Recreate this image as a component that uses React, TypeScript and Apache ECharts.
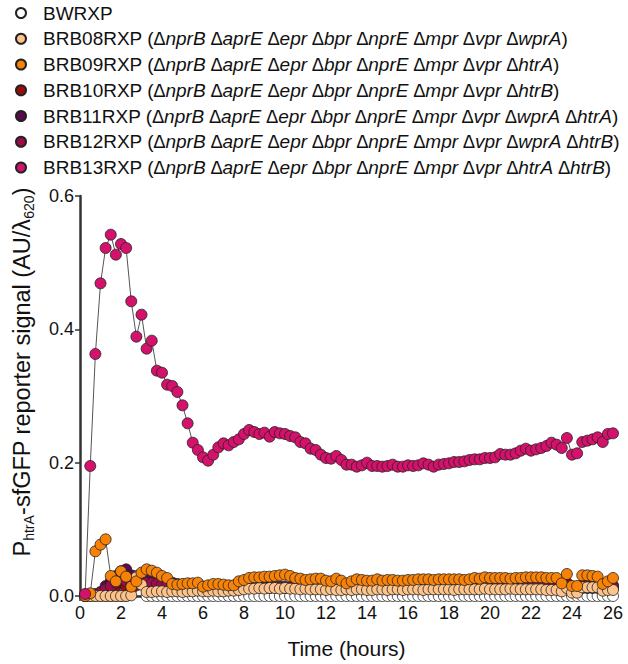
import React, { useEffect, useRef } from "react";
import * as echarts from "echarts";

// sampling grid: every 15 min
const times: number[] = Array.from({ length: 104 }, (_, i) => (i + 1) * 0.25);
const xTicks = [0, 2, 4, 6, 8, 10, 12, 14, 16, 18, 20, 22, 24, 26];
const yTicks = [0, 0.2, 0.4, 0.6];

const seriesNames = ["BWRXP", "BRB08RXP", "BRB09RXP", "BRB10RXP", "BRB11RXP", "BRB12RXP", "BRB13RXP"];
const deletions: string[][] = [
  [],
  ["nprB", "aprE", "epr", "bpr", "nprE", "mpr", "vpr", "wprA"],
  ["nprB", "aprE", "epr", "bpr", "nprE", "mpr", "vpr", "htrA"],
  ["nprB", "aprE", "epr", "bpr", "nprE", "mpr", "vpr", "htrB"],
  ["nprB", "aprE", "epr", "bpr", "nprE", "mpr", "vpr", "wprA", "htrA"],
  ["nprB", "aprE", "epr", "bpr", "nprE", "mpr", "vpr", "wprA", "htrB"],
  ["nprB", "aprE", "epr", "bpr", "nprE", "mpr", "vpr", "htrA", "htrB"],
];
const fills = ["#ffffff", "#fdc38a", "#f78206", "#a00a08", "#5b0a4c", "#9c0c4c", "#d4116b"];

const bwrxp = [
  0, 0, 0, 0, 0, 0, 0, 0, 0, 0.02,
  0.03, 0.024, 0, 0, 0, 0, 0, 0, 0, 0,
  0, 0, 0, 0, 0, 0, 0, 0, 0, 0,
  0, 0, 0, 0, 0, 0, 0, 0, 0, 0,
  0, 0, 0, 0, 0, 0, 0, 0, 0, 0,
  0, 0, 0, 0, 0, 0, 0, 0, 0, 0,
  0, 0, 0, 0, 0, 0, 0, 0, 0, 0,
  0, 0, 0, 0, 0, 0, 0, 0, 0, 0,
  0, 0, 0, 0, 0, 0, 0, 0, 0, 0,
  0, 0, 0, 0, 0, 0, 0, 0, 0, 0,
  0, 0, 0, 0,
];
const brb08 = [
  0, 0, 0, 0, 0, 0, 0, 0, 0, 0.001,
  0.028, 0.017, 0.006, 0.006, 0.007, 0.007, 0.006, 0.007, 0.007, 0.006,
  0.007, 0.007, 0.008, 0.007, 0.007, 0.008, 0.007, 0.007, 0.008, 0.008,
  0.009, 0.010, 0.011, 0.011, 0.012, 0.011, 0.012, 0.012, 0.011, 0.012,
  0.011, 0.011, 0.010, 0.011, 0.010, 0.010, 0.010, 0.009, 0.010, 0.009,
  0.009, 0.010, 0.009, 0.010, 0.010, 0.009, 0.009, 0.010, 0.010, 0.009,
  0.010, 0.010, 0.009, 0.010, 0.010, 0.010, 0.009, 0.010, 0.010, 0.010,
  0.010, 0.010, 0.009, 0.010, 0.010, 0.010, 0.010, 0.010, 0.011, 0.010,
  0.010, 0.010, 0.010, 0.011, 0.010, 0.010, 0.010, 0.010, 0.010, 0.010,
  0.009, 0.009, 0.009, 0.007, 0.012, 0.005, 0.005, 0.013, 0.013, 0.013,
  0.013, 0.008, 0.009, 0.009,
];
const brb09 = [
  0.000, 0.004, 0.067, 0.077, 0.085, 0.030, 0.022, 0.037, 0.029, 0.014,
  0.022, 0.035, 0.040, 0.038, 0.035, 0.030, 0.027, 0.018, 0.017, 0.018,
  0.019, 0.019, 0.020, 0.014, 0.016, 0.018, 0.018, 0.017, 0.016, 0.016,
  0.022, 0.024, 0.027, 0.028, 0.028, 0.029, 0.029, 0.030, 0.031, 0.032,
  0.030, 0.027, 0.026, 0.024, 0.025, 0.026, 0.026, 0.023, 0.022, 0.026,
  0.023, 0.019, 0.022, 0.025, 0.024, 0.023, 0.023, 0.025, 0.023, 0.024,
  0.024, 0.023, 0.023, 0.024, 0.024, 0.025, 0.025, 0.025, 0.024, 0.025,
  0.025, 0.025, 0.025, 0.025, 0.024, 0.025, 0.027, 0.026, 0.028, 0.027,
  0.027, 0.027, 0.027, 0.026, 0.027, 0.027, 0.028, 0.028, 0.028, 0.028,
  0.027, 0.027, 0.027, 0.019, 0.033, 0.015, 0.015, 0.031, 0.031, 0.030,
  0.029, 0.018, 0.022, 0.027,
];
const brb10 = [
  0.000, 0.001, 0.001, 0.003, 0.007, 0.011, 0.015, 0.019, 0.013, 0.010,
  0.016, 0.018, 0.016, 0.015, 0.014, 0.014, 0.013, 0.013, 0.012, 0.012,
  0.012, 0.012, 0.011, 0.011, 0.011, 0.012, 0.011, 0.011, 0.012, 0.012,
  0.012, 0.013, 0.013, 0.014, 0.014, 0.013, 0.014, 0.014, 0.014, 0.014,
  0.013, 0.013, 0.013, 0.013, 0.012, 0.012, 0.013, 0.012, 0.012, 0.012,
  0.012, 0.012, 0.012, 0.012, 0.012, 0.012, 0.012, 0.012, 0.012, 0.012,
  0.012, 0.012, 0.013, 0.013, 0.012, 0.013, 0.013, 0.013, 0.013, 0.013,
  0.014, 0.014, 0.014, 0.014, 0.015, 0.015, 0.015, 0.015, 0.015, 0.015,
  0.015, 0.015, 0.016, 0.016, 0.016, 0.016, 0.016, 0.016, 0.016, 0.016,
  0.016, 0.016, 0.017, 0.016, 0.020, 0.014, 0.014, 0.016, 0.016, 0.016,
  0.017, 0.013, 0.015, 0.016,
];
const brb11 = [
  0.000, 0.001, 0.002, 0.006, 0.015, 0.022, 0.030, 0.037, 0.040, 0.031,
  0.024, 0.027, 0.030, 0.028, 0.027, 0.024, 0.021, 0.020, 0.018, 0.017,
  0.016, 0.015, 0.015, 0.014, 0.014, 0.013, 0.013, 0.013, 0.013, 0.013,
  0.013, 0.013, 0.012, 0.013, 0.013, 0.012, 0.012, 0.013, 0.012, 0.012,
  0.012, 0.012, 0.012, 0.012, 0.012, 0.012, 0.012, 0.012, 0.012, 0.012,
  0.012, 0.012, 0.012, 0.012, 0.012, 0.012, 0.012, 0.012, 0.012, 0.012,
  0.012, 0.012, 0.012, 0.012, 0.012, 0.012, 0.012, 0.012, 0.012, 0.012,
  0.012, 0.012, 0.012, 0.012, 0.012, 0.012, 0.012, 0.012, 0.012, 0.012,
  0.012, 0.012, 0.012, 0.012, 0.012, 0.012, 0.012, 0.012, 0.012, 0.012,
  0.012, 0.012, 0.012, 0.012, 0.014, 0.011, 0.011, 0.012, 0.012, 0.012,
  0.012, 0.011, 0.012, 0.012,
];
const brb12 = [
  0.002, 0.002, 0.003, 0.005, 0.010, 0.015, 0.020, 0.024, 0.022, 0.016,
  0.020, 0.021, 0.020, 0.019, 0.018, 0.017, 0.016, 0.015, 0.015, 0.014,
  0.014, 0.013, 0.013, 0.013, 0.013, 0.013, 0.013, 0.013, 0.013, 0.013,
  0.013, 0.013, 0.013, 0.013, 0.013, 0.013, 0.013, 0.013, 0.013, 0.013,
  0.013, 0.013, 0.013, 0.013, 0.013, 0.013, 0.013, 0.013, 0.013, 0.013,
  0.013, 0.013, 0.013, 0.013, 0.013, 0.013, 0.013, 0.013, 0.013, 0.013,
  0.013, 0.013, 0.013, 0.013, 0.013, 0.013, 0.013, 0.013, 0.013, 0.013,
  0.013, 0.013, 0.013, 0.013, 0.013, 0.013, 0.013, 0.013, 0.013, 0.013,
  0.013, 0.013, 0.013, 0.013, 0.013, 0.013, 0.013, 0.013, 0.013, 0.013,
  0.013, 0.013, 0.013, 0.013, 0.015, 0.012, 0.012, 0.013, 0.013, 0.013,
  0.013, 0.012, 0.013, 0.013,
];
const brb13 = [
  0.003, 0.195, 0.363, 0.469, 0.522, 0.542, 0.512, 0.528, 0.522, 0.442,
  0.389, 0.422, 0.371, 0.383, 0.338, 0.335, 0.317, 0.315, 0.306, 0.286,
  0.259, 0.230, 0.219, 0.208, 0.203, 0.212, 0.223, 0.229, 0.226, 0.231,
  0.235, 0.243, 0.249, 0.246, 0.243, 0.245, 0.239, 0.246, 0.244, 0.243,
  0.240, 0.238, 0.231, 0.229, 0.221, 0.219, 0.212, 0.207, 0.206, 0.210,
  0.204, 0.197, 0.197, 0.194, 0.196, 0.200, 0.195, 0.195, 0.194, 0.195,
  0.197, 0.194, 0.194, 0.196, 0.195, 0.196, 0.199, 0.197, 0.194, 0.197,
  0.198, 0.199, 0.201, 0.201, 0.202, 0.204, 0.205, 0.205, 0.207, 0.207,
  0.208, 0.213, 0.212, 0.212, 0.214, 0.218, 0.221, 0.218, 0.220, 0.222,
  0.225, 0.230, 0.227, 0.222, 0.237, 0.212, 0.214, 0.231, 0.233, 0.235,
  0.238, 0.231, 0.243, 0.244,
];
const allValues = [bwrxp, brb08, brb09, brb10, brb11, brb12, brb13];
// drawing order (bottom to top)
const drawOrder = [0, 3, 4, 5, 1, 2, 6];

const FONT = "'Liberation Sans', Arial, sans-serif";
const LEG_FS = 19;
const YT_FS = 23.5;

function legendLabel(name: string): string {
  const idx = seriesNames.indexOf(name);
  const dels = deletions[idx];
  if (!dels || dels.length === 0) return `{g| }{n|${name}}`;
  return `{g| }{n|${name} (}` + dels.map((g) => `{i|\u2206${g}}`).join("{n| }") + "{n|)}";
}

export default function App() {
  const ref = useRef<HTMLDivElement>(null);
  useEffect(() => {
    if (!ref.current) return;
    const chart = echarts.init(ref.current, undefined, { renderer: "svg" });
    const series = drawOrder.map((si) => ({
      name: seriesNames[si],
      type: "line",
      data: times.map((t, i) => [t, allValues[si][i]]),
      symbol: "circle",
      symbolSize: 11,
      showAllSymbol: true,
      lineStyle: { color: "#555", width: 1 },
      itemStyle: { color: fills[si], borderColor: "#222", borderWidth: 0.8 },
      emphasis: { disabled: true },
    }));
    chart.setOption({
      animation: false,
      backgroundColor: "#fff",
      legend: {
        orient: "vertical",
        left: 15,
        top: 3,
        padding: 0,
        itemWidth: 10,
        itemHeight: 10,
        itemGap: 5.75,
        icon: "circle",
        selectedMode: false,
        data: seriesNames,
        formatter: legendLabel,
        textStyle: {
          fontFamily: FONT,
          fontSize: LEG_FS,
          color: "#111",
          lineHeight: 20,
          rich: {
            g: { width: 12, fontSize: LEG_FS, lineHeight: 20 },
            n: { fontFamily: FONT, fontSize: LEG_FS, color: "#111", lineHeight: 20 },
            i: { fontFamily: FONT, fontSize: LEG_FS, color: "#111", fontStyle: "italic", lineHeight: 20 },
          },
        },
      },
      graphic: [
        {
          type: "text",
          x: 22,
          y: 372,
          rotation: Math.PI / 2,
          style: {
            text: "{p|P}{s|htrA}{p|-sfGFP reporter signal (AU/\u03bb}{s|620}{p|)}",
            align: "center",
            verticalAlign: "middle",
            fontFamily: FONT,
            fontSize: YT_FS,
            fill: "#111",
            rich: {
              p: { fontFamily: FONT, fontSize: YT_FS, fill: "#111", lineHeight: 28, verticalAlign: "middle" },
              s: { fontFamily: FONT, fontSize: 14, fill: "#111", lineHeight: 28, verticalAlign: "bottom" },
            },
          },
        },
      ],
      grid: { left: 80, right: 15, top: 196, bottom: 66, containLabel: false },
      xAxis: {
        type: "value",
        min: 0,
        max: 26,
        interval: 2,
        name: "Time (hours)",
        nameLocation: "middle",
        nameGap: 42,
        nameTextStyle: { fontFamily: FONT, fontSize: 21, color: "#111" },
        axisLine: { onZero: false, lineStyle: { color: "#333", width: 2.5 } },
        axisTick: { show: true, length: 5, lineStyle: { color: "#333", width: 1.5 } },
        axisLabel: {
          fontFamily: FONT,
          fontSize: 18,
          color: "#111",
          margin: 8,
          formatter: (v: number) => (xTicks.includes(v) ? String(v) : ""),
        },
        splitLine: { show: false },
      },
      yAxis: {
        type: "value",
        min: 0,
        max: 0.6,
        interval: 0.2,
        axisLine: { show: true, onZero: false, lineStyle: { color: "#333", width: 2.5 } },
        axisTick: { show: true, length: 5, lineStyle: { color: "#333", width: 1.5 } },
        axisLabel: {
          fontFamily: FONT,
          fontSize: 18,
          color: "#111",
          margin: 6,
          formatter: (v: number) => {
            const t = yTicks.find((y) => Math.abs(y - v) < 1e-9);
            return t === undefined ? "" : t.toFixed(1);
          },
        },
        splitLine: { show: false },
      },
      series,
    });
    return () => chart.dispose();
  }, []);
  return <div ref={ref} style={{ position: "absolute", left: 0, top: 0, width: 628, height: 664 }} />;
}
